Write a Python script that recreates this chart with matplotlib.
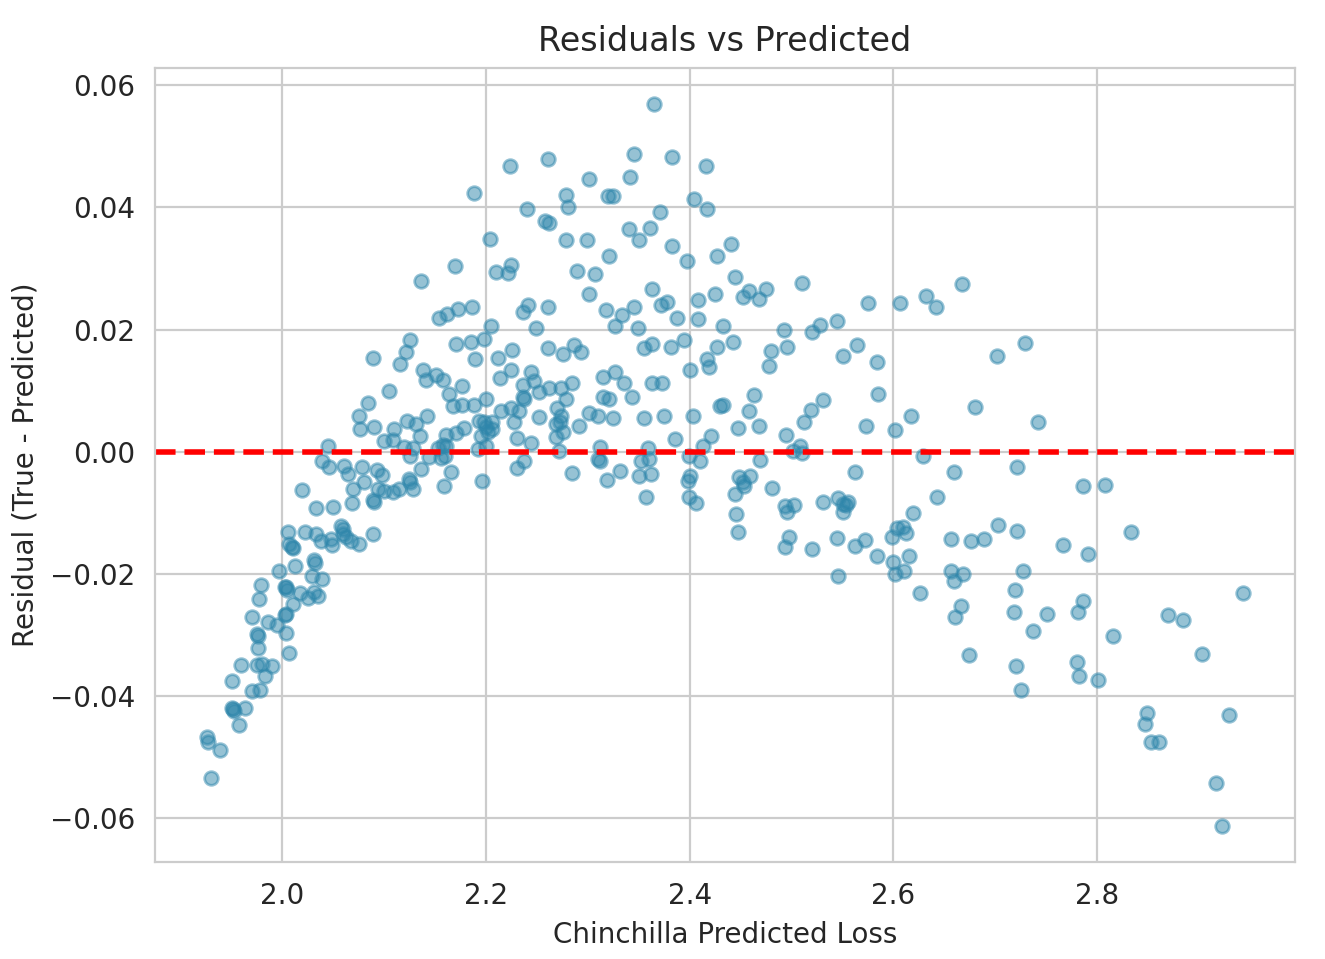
import matplotlib
matplotlib.use("Agg")
import matplotlib.pyplot as plt
import seaborn as sns

# values
predicted = [
    1.926, 1.927, 1.930, 1.939, 1.951, 1.952, 1.953, 1.958, 1.963, 1.951,
    1.960, 1.970, 1.978, 1.983, 1.975, 1.980, 1.970, 1.976, 1.976, 1.975,
    1.977, 1.979, 1.986, 1.990, 1.995, 1.997, 2.004, 2.007, 2.003, 2.004,
    2.003, 2.004, 2.005, 2.011, 2.013, 2.010, 2.011, 2.007, 2.006, 2.019,
    2.017, 2.025, 2.031, 2.035, 2.039, 2.029, 2.031, 2.032, 2.022, 2.033,
    2.038, 2.048, 2.049, 2.058, 2.060, 2.060, 2.063, 2.068, 2.075, 2.089,
    2.033, 2.050, 2.069, 2.089, 2.090, 2.039, 2.045, 2.046, 2.061, 2.065,
    2.078, 2.080, 2.070, 2.076, 2.090, 2.075, 2.084, 2.089,
    2.170, 2.136, 2.210, 2.222, 2.225, 2.154, 2.162, 2.173, 2.186, 2.205,
    2.236, 2.241, 2.261, 2.249, 2.125, 2.122, 2.116, 2.171, 2.185, 2.198,
    2.189, 2.212, 2.226, 2.261, 2.138, 2.141, 2.151, 2.158, 2.177, 2.164,
    2.168, 2.177, 2.188, 2.200, 2.105, 2.214, 2.225, 2.244, 2.236, 2.247,
    2.252, 2.236, 2.237, 2.232, 2.215, 2.225, 2.252, 2.228, 2.142, 2.123,
    2.131, 2.110, 2.135, 2.161, 2.171, 2.178, 2.193, 2.198, 2.200, 2.195,
    2.202, 2.206, 2.206, 2.231, 2.244, 2.100, 2.109, 2.158, 2.161, 2.153,
    2.120, 2.128, 2.125, 2.144, 2.156, 2.160, 2.192, 2.200, 2.237, 2.231,
    2.093, 2.098, 2.136, 2.166, 2.196, 2.159, 2.124, 2.125, 2.128, 2.115,
    2.100, 2.094, 2.109,
    2.224, 2.261, 2.188, 2.240, 2.258, 2.262, 2.204,
    2.365, 2.345, 2.383, 2.416, 2.301, 2.341, 2.279, 2.320, 2.325, 2.281,
    2.404, 2.417, 2.371, 2.279, 2.299, 2.340, 2.361, 2.350, 2.383, 2.397,
    2.321, 2.427, 2.289, 2.307, 2.363, 2.301, 2.425,
    2.318, 2.334, 2.345, 2.372, 2.378, 2.408, 2.388, 2.408, 2.327, 2.349,
    2.276, 2.286, 2.293, 2.355, 2.363, 2.382, 2.394, 2.427, 2.417, 2.419,
    2.400, 2.315, 2.327, 2.336, 2.343, 2.363, 2.373, 2.262, 2.274, 2.285,
    2.279, 2.315, 2.321, 2.430, 2.270, 2.301, 2.310, 2.274, 2.273, 2.269,
    2.291, 2.325, 2.355, 2.375, 2.403, 2.276, 2.269, 2.386, 2.421, 2.413,
    2.272, 2.312, 2.310, 2.312, 2.359, 2.352, 2.360, 2.399, 2.410, 2.285,
    2.332, 2.319, 2.350, 2.362, 2.400, 2.398, 2.357, 2.399, 2.406,
    2.441, 2.445, 2.510, 2.458, 2.452, 2.468, 2.475, 2.575, 2.607, 2.433,
    2.493, 2.520, 2.528, 2.545, 2.443, 2.480, 2.496, 2.478, 2.551, 2.564,
    2.584, 2.585, 2.463, 2.433, 2.458, 2.519, 2.531, 2.512, 2.447, 2.468,
    2.495, 2.573, 2.602, 2.617, 2.501, 2.508, 2.510, 2.469, 2.562, 2.448,
    2.452, 2.459, 2.445, 2.453, 2.481, 2.494, 2.502, 2.531, 2.546, 2.555,
    2.551,
    2.446, 2.447, 2.496, 2.551, 2.554, 2.498, 2.494, 2.520, 2.545, 2.562,
    2.572, 2.584, 2.599, 2.604, 2.600, 2.602, 2.546,
    2.667, 2.632, 2.642, 2.702, 2.729, 2.680, 2.742, 2.629, 2.660, 2.721,
    2.643, 2.786, 2.619, 2.609, 2.612, 2.703, 2.721, 2.657, 2.676, 2.689,
    2.767, 2.791, 2.615,
    2.610, 2.657, 2.660, 2.668, 2.727, 2.626, 2.719, 2.666, 2.661, 2.718,
    2.751, 2.737, 2.786, 2.781, 2.674, 2.720, 2.780, 2.782, 2.801, 2.725,
    2.808, 2.833, 2.943, 2.870, 2.884, 2.816, 2.903, 2.849, 2.847, 2.853,
    2.861, 2.930, 2.917, 2.923,
]

residual = [
    -0.0468, -0.0475, -0.0534, -0.0488, -0.0420, -0.0421, -0.0424, -0.0447, -0.0420, -0.0376,
    -0.0349, -0.0392, -0.0390, -0.0367, -0.0349, -0.0348, -0.0271, -0.0322, -0.0301, -0.0299,
    -0.0242, -0.0218, -0.0279, -0.0351, -0.0283, -0.0195, -0.0297, -0.0330, -0.0268, -0.0266,
    -0.0221, -0.0222, -0.0226, -0.0250, -0.0187, -0.0156, -0.0157, -0.0151, -0.0131, -0.0063,
    -0.0232, -0.0239, -0.0229, -0.0236, -0.0208, -0.0203, -0.0178, -0.0182, -0.0131, -0.0134,
    -0.0146, -0.0143, -0.0152, -0.0121, -0.0126, -0.0134, -0.0139, -0.0147, -0.0151, -0.0134,
    -0.0092, -0.0090, -0.0084, -0.0079, -0.0082, -0.0015, 0.0009, -0.0025, -0.0024, -0.0037,
    -0.0025, -0.0050, -0.0061, 0.0037, 0.0040, 0.0059, 0.0079, 0.0154,
    0.0304, 0.0279, 0.0294, 0.0292, 0.0306, 0.0219, 0.0226, 0.0234, 0.0237, 0.0206,
    0.0229, 0.0240, 0.0237, 0.0203, 0.0183, 0.0164, 0.0144, 0.0177, 0.0180, 0.0185,
    0.0151, 0.0154, 0.0167, 0.0169, 0.0133, 0.0117, 0.0125, 0.0117, 0.0108, 0.0094,
    0.0074, 0.0077, 0.0077, 0.0087, 0.0099, 0.0121, 0.0133, 0.0131, 0.0110, 0.0115,
    0.0097, 0.0090, 0.0086, 0.0066, 0.0066, 0.0071, 0.0056, 0.0048, 0.0059, 0.0051,
    0.0045, 0.0037, 0.0025, 0.0027, 0.0030, 0.0038, 0.0050, 0.0048, 0.0040, 0.0025,
    0.0033, 0.0048, 0.0037, 0.0022, 0.0015, 0.0017, 0.0019, 0.0011, 0.0009, 0.0006,
    0.0007, 0.0006, -0.0007, -0.0009, -0.0011, -0.0007, 0.0004, 0.0009, -0.0015, -0.0027,
    -0.0030, -0.0038, -0.0029, -0.0033, -0.0048, -0.0056, -0.0045, -0.0050, -0.0061, -0.0061,
    -0.0064, -0.0061, -0.0066,
    0.0467, 0.0480, 0.0424, 0.0397, 0.0377, 0.0374, 0.0349,
    0.0569, 0.0488, 0.0483, 0.0468, 0.0446, 0.0449, 0.0421, 0.0418, 0.0419, 0.0400,
    0.0413, 0.0398, 0.0392, 0.0346, 0.0346, 0.0364, 0.0366, 0.0346, 0.0336, 0.0312,
    0.0320, 0.0320, 0.0296, 0.0291, 0.0266, 0.0258, 0.0258,
    0.0232, 0.0224, 0.0237, 0.0240, 0.0245, 0.0248, 0.0219, 0.0218, 0.0206, 0.0203,
    0.0160, 0.0175, 0.0164, 0.0170, 0.0177, 0.0172, 0.0183, 0.0172, 0.0151, 0.0139,
    0.0134, 0.0123, 0.0130, 0.0112, 0.0090, 0.0113, 0.0113, 0.0105, 0.0105, 0.0112,
    0.0087, 0.0089, 0.0087, 0.0074, 0.0071, 0.0064, 0.0058, 0.0059, 0.0048, 0.0046,
    0.0042, 0.0055, 0.0055, 0.0058, 0.0058, 0.0033, 0.0024, 0.0020, 0.0025, 0.0009,
    0.0001, 0.0007, -0.0012, -0.0015, 0.0006, -0.0015, -0.0012, -0.0007, -0.0015, -0.0035,
    -0.0032, -0.0046, -0.0040, -0.0037, -0.0040, -0.0048, -0.0074, -0.0074, -0.0084,
    0.0340, 0.0286, 0.0276, 0.0263, 0.0253, 0.0250, 0.0266, 0.0244, 0.0244, 0.0206,
    0.0200, 0.0196, 0.0208, 0.0214, 0.0180, 0.0165, 0.0172, 0.0141, 0.0156, 0.0175,
    0.0147, 0.0094, 0.0092, 0.0076, 0.0066, 0.0068, 0.0084, 0.0048, 0.0038, 0.0042,
    0.0027, 0.0042, 0.0035, 0.0058, 0.0001, 0.0009, -0.0002, -0.0014, -0.0033, -0.0042,
    -0.0050, -0.0040, -0.0069, -0.0056, -0.0059, -0.0089, -0.0087, -0.0082, -0.0076, -0.0082,
    -0.0086,
    -0.0102, -0.0131, -0.0099, -0.0099, -0.0087, -0.0139, -0.0156, -0.0159, -0.0141, -0.0154,
    -0.0144, -0.0170, -0.0139, -0.0125, -0.0180, -0.0200, -0.0203,
    0.0275, 0.0255, 0.0237, 0.0156, 0.0178, 0.0073, 0.0048, -0.0007, -0.0033, -0.0025,
    -0.0074, -0.0056, -0.0100, -0.0123, -0.0133, -0.0120, -0.0130, -0.0143, -0.0146, -0.0143,
    -0.0152, -0.0167, -0.0170,
    -0.0195, -0.0196, -0.0211, -0.0201, -0.0196, -0.0232, -0.0226, -0.0253, -0.0271, -0.0263,
    -0.0266, -0.0294, -0.0245, -0.0263, -0.0333, -0.0351, -0.0345, -0.0367, -0.0374, -0.0390,
    -0.0055, -0.0131, -0.0231, -0.0268, -0.0276, -0.0301, -0.0332, -0.0428, -0.0446, -0.0475,
    -0.0475, -0.0431, -0.0542, -0.0613,
]

sns.set_style("whitegrid")
plt.rcParams["font.family"] = ["DejaVu Sans"]

fig, ax = plt.subplots(figsize=(6.625, 4.795), dpi=200)
ax.scatter(predicted, residual, s=24, color="#2E86AB", alpha=0.5)
ax.axhline(0, color="red", linestyle="--", linewidth=2)
ax.set_xlabel("Chinchilla Predicted Loss")
ax.set_ylabel("Residual (True - Predicted)")
ax.set_title("Residuals vs Predicted")

fig.subplots_adjust(left=0.117, right=0.977, top=0.929, bottom=0.101)
fig.savefig("out.png", dpi=200)
